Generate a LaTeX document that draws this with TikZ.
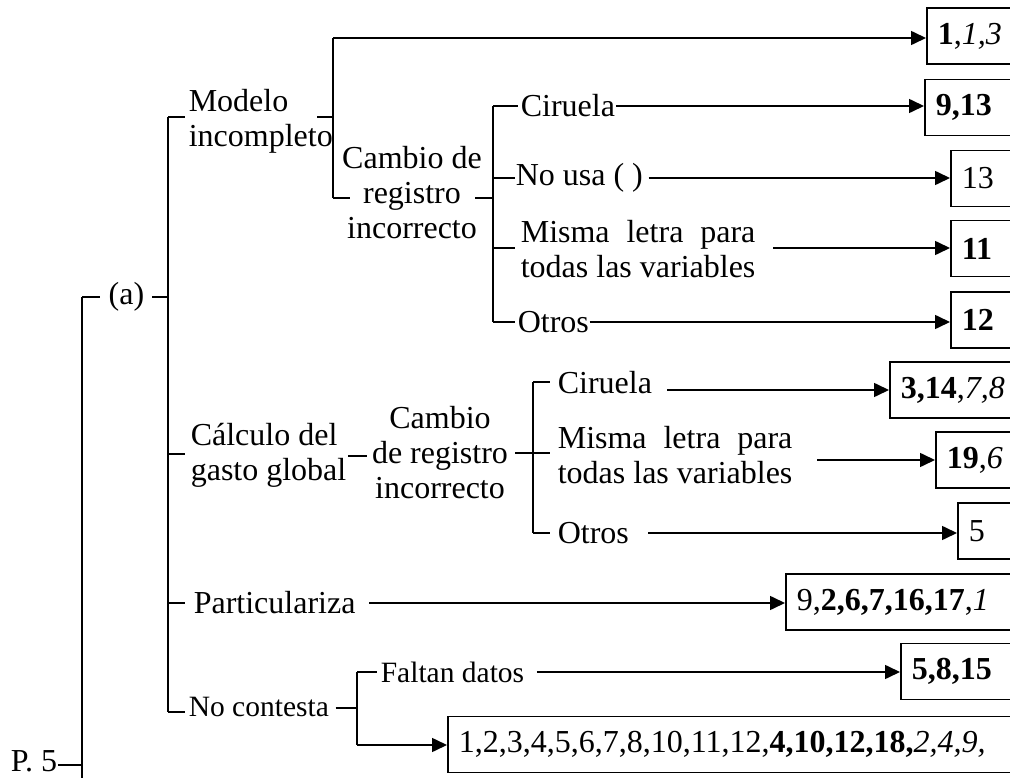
\documentclass[tikz,border=0pt]{standalone}
\usepackage{fontspec}
\setmainfont{Liberation Serif}
\usetikzlibrary{arrows.meta}
\newcommand\mainsz{\fontsize{32pt}{35pt}\selectfont}
\newcommand\smallsz{\fontsize{29.5pt}{33pt}\selectfont}
\newlength\mwid
\newcommand\misma{\settowidth{\mwid}{todas las variables}\makebox[\mwid][s]{Misma letra para}\\todas las variables}
\begin{document}
\begin{tikzpicture}[x=1pt,y=-1pt,line width=1.6pt,
  lbl/.style={inner sep=0pt,font=\mainsz},
  lbls/.style={inner sep=0pt,font=\smallsz},
  box/.style={draw,anchor=west,font=\mainsz,minimum height=56pt,inner xsep=11pt,inner ysep=0pt,text width=620pt,align=left},
  arr/.style={-{Triangle[length=15pt,width=14pt]}}]
\useasboundingbox (0,0) rectangle (1010,778);
\clip (0,0) rectangle (1010,778);

% ---------- text nodes ----------
\node[lbl,anchor=west] (p5) at (10,761) {P. 5};
\node[lbl] (a) at (126.5,297) {(a)};
\node[lbl,anchor=west,align=left] (mod) at (188,121) {Modelo\\incompleto};
\node[lbl,align=center] (cam1) at (412,193) {Cambio de\\registro\\incorrecto};
\node[lbl,anchor=west] (cir1) at (520,106) {Ciruela};
\node[lbl,anchor=west] (nousa) at (515,178) {No usa ( )};
\node[lbl,anchor=west,align=left] (mis1) at (520,249) {\misma};
\node[lbl,anchor=west] (otr1) at (517,322) {Otros};
\node[lbl,anchor=west,align=left] (calc) at (190,455.5) {Cálculo del\\gasto global};
\node[lbl,align=center] (cam2) at (440,453) {Cambio\\de registro\\incorrecto};
\node[lbl,anchor=west] (cir2) at (557,383) {Ciruela};
\node[lbl,anchor=west,align=left] (mis2) at (557,455.5) {\misma};
\node[lbl,anchor=west] (otr2) at (557,533) {Otros};
\node[lbl,anchor=west] (part) at (193,603) {Particulariza};
\node[lbls,anchor=west] (noc) at (188,707) {No contesta};
\node[lbls,anchor=west] (falt) at (380,672) {Faltan datos};

% ---------- result boxes ----------
\node[box] (b1) at (926,36) {\textbf{1},\textit{1,3}};
\node[box] (b2) at (924,107.5) {\textbf{9,13}};
\node[box] (b3) at (950,178.5) {13};
\node[box] (b4) at (950,248.5) {\textbf{11}};
\node[box] (b5) at (950,320) {\textbf{12}};
\node[box] (b6) at (889,390) {\textbf{3,14},\textit{7,8}};
\node[box] (b7) at (935,460) {\textbf{19},\textit{6}};
\node[box] (b8) at (957,531) {5};
\node[box] (b9) at (785,602) {9,\textbf{2,6,7,16,17},\textit{1}};
\node[box] (b10) at (900,671.5) {\textbf{5,8,15}};
\node[box] (b11) at (447,744.5) {1,2,3,4,5,6,7,8,10,11,12,\textbf{4,10,12,18,}\textit{2,4,9,}};

% ---------- junction coordinates ----------
\coordinate (A1) at (82,297);   \coordinate (A2) at (82,800);
\coordinate (al) at (100,297);  \coordinate (ar) at (152,297);
\coordinate (B1) at (168,117);  \coordinate (B2) at (168,454);
\coordinate (B3) at (168,603);  \coordinate (B4) at (168,712);
\coordinate (Ba) at (168,297);
\coordinate (C1) at (333,38);   \coordinate (C2) at (333,198);
\coordinate (md) at (317,117);  \coordinate (Cm) at (333,117);
\coordinate (c1l) at (350,198); \coordinate (c1r) at (475,198);
\coordinate (D1) at (493,106);  \coordinate (D2) at (493,178);
\coordinate (D3) at (493,248);  \coordinate (D4) at (493,322);
\coordinate (Dm) at (493,198);
\coordinate (k1) at (348,456);  \coordinate (k2) at (367,456);
\coordinate (c2r) at (515,453);
\coordinate (E1) at (533,382);  \coordinate (E2) at (533,453);
\coordinate (E3) at (533,533);
\coordinate (n1) at (333,708);  \coordinate (F0) at (357,708);
\coordinate (F1) at (357,672);  \coordinate (F2) at (357,745);
\coordinate (P5t) at (82,765);

% ---------- level 0 ----------
\draw (A1) -- (A2);
\draw (p5.east |- P5t) -- (P5t);
\draw (A1) -- (al);
\draw (ar) -- (Ba);

% ---------- level 1 spine ----------
\draw (B1) -- (B4);
\draw[shorten >=3pt] (B1) -- (B1 -| mod.west);
\draw[shorten >=5pt] (B2) -- (B2 -| calc.west);
\draw[shorten >=8pt] (B3) -- (B3 -| part.west);
\draw[shorten >=3pt] (B4) -- (B4 -| noc.west);

% ---------- Modelo incompleto ----------
\draw (C1) -- (C2);
\draw (md) -- (Cm);
\draw[arr] (C1) -- (b1.west |- C1);
\draw (C2) -- (c1l);
\draw (c1r) -- (Dm);
\draw (D1) -- (D4);
\draw[shorten >=2pt] (D1) -- (D1 -| cir1.west);
\draw (D2) -- (D2 -| nousa.west);
\draw[shorten >=5pt] (D3) -- (D3 -| mis1.west);
\draw[shorten >=2pt] (D4) -- (D4 -| otr1.west);
\draw[arr] (cir1.east) -- (cir1.east -| b2.west);
\draw[arr,shorten <=5pt] (nousa.east) -- (nousa.east -| b3.west);
\draw[arr] (773,248) coordinate (m1s) -- (m1s -| b4.west);
\draw[arr] (otr1.east |- D4) -- (D4 -| b5.west);

% ---------- Cálculo del gasto global ----------
\draw (k1) -- (k2);
\draw (c2r) -- (E2);
\draw (E1) -- (E3);
\draw[shorten >=7pt] (E1) -- (E1 -| cir2.west);
\draw[shorten >=7pt] (E2) -- (E2 -| mis2.west);
\draw[shorten >=7pt] (E3) -- (E3 -| otr2.west);
\draw[arr] (667,390) coordinate (c2s) -- (b6.west);
\draw[arr] (817,460) coordinate (m2s) -- (b7.west);
\draw[arr] (648,533) coordinate (o2s) -- (o2s -| b8.west);

% ---------- Particulariza ----------
\draw[arr,shorten <=13pt] (part.east) -- (part.east -| b9.west);

% ---------- No contesta ----------
\draw[shorten <=6pt] (noc.east |- n1) -- (F0);
\draw (F1) -- (F2);
\draw[shorten >=3pt] (F1) -- (F1 -| falt.west);
\draw[arr,shorten <=12pt] (falt.east) -- (falt.east -| b10.west);
\draw[arr] (F2) -- (F2 -| b11.west);
\end{tikzpicture}
\end{document}
